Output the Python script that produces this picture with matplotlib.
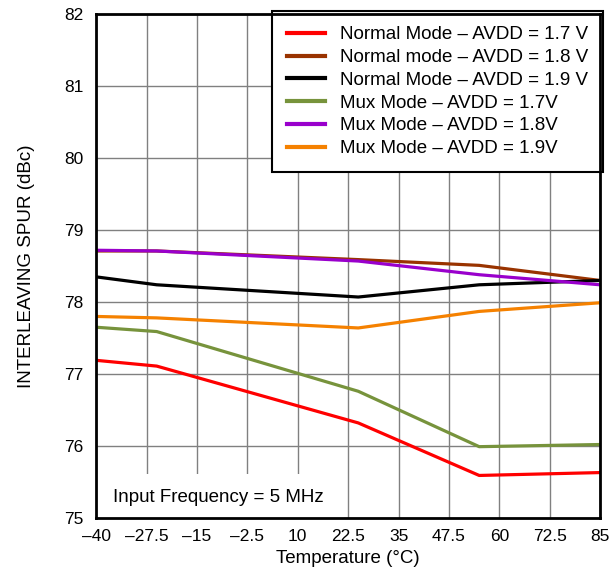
import numpy as np
import matplotlib
matplotlib.use('Agg')
import matplotlib.pyplot as plt
from matplotlib.patches import Rectangle

plt.rcParams['font.family'] = ['Liberation Sans', 'DejaVu Sans']

# dados
temperatura = [-40, -25, 25, 55, 85]
normal_17 = [77.19, 77.11, 76.32, 75.59, 75.63]
normal_18 = [78.71, 78.71, 78.59, 78.51, 78.30]
normal_19 = [78.35, 78.24, 78.07, 78.24, 78.30]
mux_17 = [77.65, 77.59, 76.76, 75.99, 76.02]
mux_18 = [78.72, 78.71, 78.57, 78.38, 78.24]
mux_19 = [77.80, 77.78, 77.64, 77.87, 77.99]

rotulos = ['Normal Mode \u2013 AVDD = 1.7 V', 'Normal mode \u2013 AVDD = 1.8 V',
           'Normal Mode \u2013 AVDD = 1.9 V', 'Mux Mode \u2013 AVDD = 1.7V',
           'Mux Mode \u2013 AVDD = 1.8V', 'Mux Mode \u2013 AVDD = 1.9V']
cores = ['#FF0000', '#993300', '#000000', '#77933C', '#9900CC', '#F58100']
series = [normal_17, normal_18, normal_19, mux_17, mux_18, mux_19]

xticks = np.arange(-40, 85.1, 12.5)
xlabels = [('%g' % v).replace('-', '\u2013') for v in xticks]

fig = plt.figure(figsize=(6.13, 5.71), dpi=100)
ax = fig.add_axes([0.157, 0.093, 0.822, 0.882])

for s, c, r in zip(series, cores, rotulos):
    ax.plot(temperatura, s, color=c, lw=2.3, label=r, zorder=3)

ax.set_xlim(-40, 85)
ax.set_ylim(75, 82)
ax.set_xticks(xticks)
ax.set_xticklabels(xlabels)
ax.set_yticks(range(75, 83))
ax.tick_params(length=0, labelsize=12.5)
ax.tick_params(axis='y', pad=9)
ax.tick_params(axis='x', pad=8)
ax.grid(True, color='#808080', lw=1)
for sp in ax.spines.values():
    sp.set_linewidth(2)
    sp.set_zorder(7)

ax.set_xlabel('Temperature (\u00b0C)', fontsize=13.5, labelpad=4)
ax.set_ylabel('INTERLEAVING SPUR (dBc)', fontsize=13.5, labelpad=21)

leg = ax.legend(loc='upper right', fontsize=13.5, frameon=True, fancybox=False,
                framealpha=1, edgecolor='black', handlelength=2.0, borderpad=0.8,
                labelspacing=0.3, handletextpad=0.8, bbox_to_anchor=(1.006, 1.006),
                borderaxespad=0)
leg.get_frame().set_linewidth(1.5)
leg.set_zorder(5)
for h in leg.get_lines():
    h.set_linewidth(3)

# caixa branca do texto de frequencia
ax.add_patch(Rectangle((-40, 75), 61.5, 0.61, facecolor='white', edgecolor='none', zorder=4))
ax.text(-35.8, 75.29, 'Input Frequency = 5 MHz', fontsize=13.5, va='center', zorder=6)

fig.savefig('out.png', dpi=100)
